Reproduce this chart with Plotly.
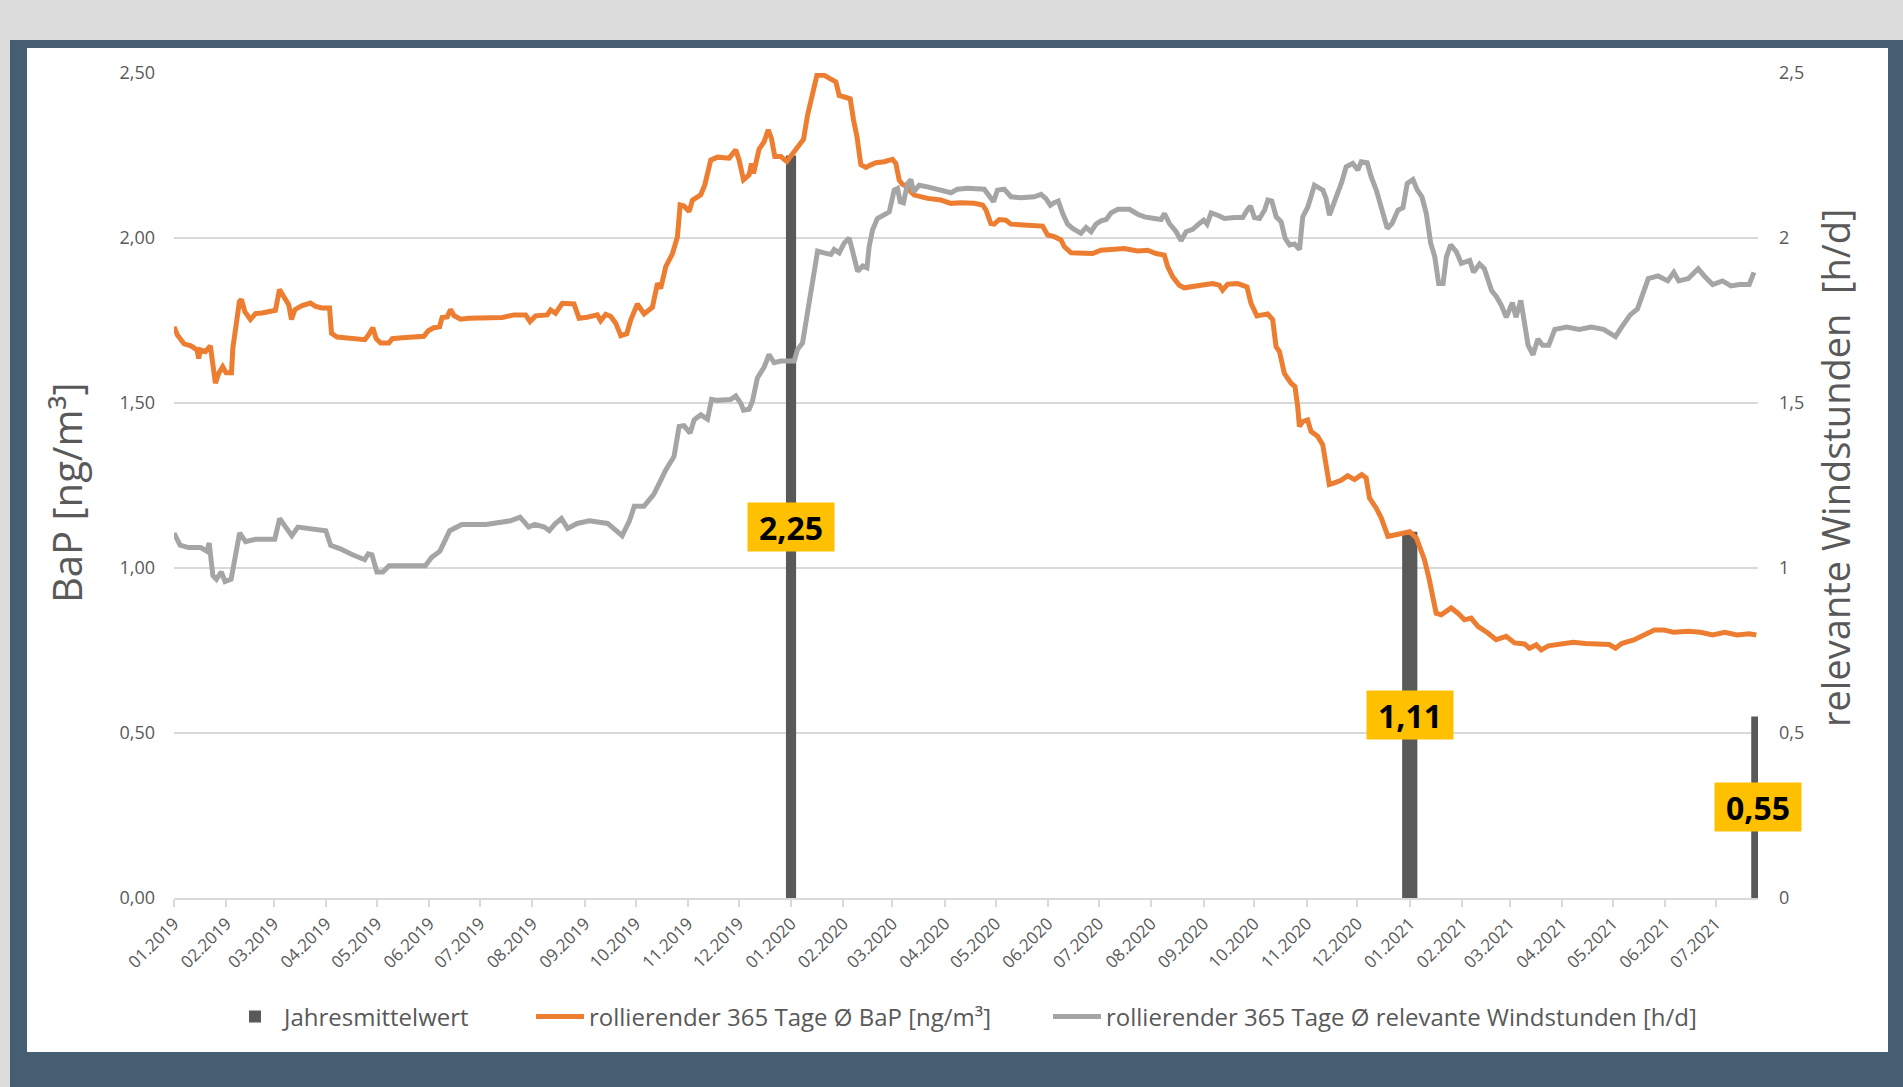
import pandas as pd
import plotly.graph_objects as go

# ---------------- data ----------------
START = "2019-01-01"
END_DAY = 937  # last day on the axis (2021-07-26)

# rolling 365-day mean BaP [ng/m³]; x = days since 2019-01-01
bap_day = [0, 2, 6, 10, 13.6, 14.6, 15.6, 18.6, 21.5, 22.9, 24.5, 26.5, 28.8, 30.8, 34, 34.8, 36.4, 37.3, 38.7, 39.9,
           41.9, 45.2, 48.2, 52.1, 56.1, 60, 62.4, 65, 67.9, 69.5, 71.5, 75.8, 80.7, 83.7, 87.6, 92, 93.2, 96.5, 101.4,
           107.4, 112.9, 114.9, 117.6, 119.6, 122.2, 127.1, 129.1, 135, 140.9, 147.8, 150.4, 153.7, 157.1, 158.6,
           161.6, 163.6, 165.6, 169.5, 174.4, 184.3, 194.2, 201, 208, 210.6, 213.9, 220.8, 222.8, 225.7, 229.7, 236.6,
           239.6, 244.5, 250.4, 252.4, 255.4, 258.4, 261.3, 264.3, 267.8, 270.2, 274.1, 278.1, 283, 286, 287.9, 290.9,
           294.9, 297.8, 299.4, 301.7, 304.7, 306.7, 311.6, 314, 317.5, 321.5, 328.4, 332.3, 334.3, 336.9, 340.2,
           341.6, 342.8, 346.1, 349.1, 351.5, 353.4, 355.4, 359, 362.5, 364.9, 366.9, 369.8, 372.4, 374.8, 377.7,
           380.3, 384.6, 388.6, 391.5, 393.5, 396.5, 400, 402, 404, 406.3, 409.3, 411.9, 415.2, 420.1, 425, 427, 429,
           430.9, 433.9, 435.9, 437.9, 445.8, 453.6, 459.6, 465.5, 473.4, 478.3, 480.3, 483.2, 485.2, 488.2, 492.1,
           495.1, 505, 513.8, 516.8, 520.7, 524.7, 526.6, 530.6, 536.5, 543.4, 548.3, 556.2, 562.1, 570, 575.9, 580.9,
           585.8, 587.8, 590.7, 594.7, 597.6, 607.5, 614.4, 618.3, 620.3, 623.3, 629.2, 634.7, 637.1, 640.6, 645,
           646.9, 649.9, 651.9, 653.9, 656.8, 660.8, 663.1, 664.7, 665.7, 667.7, 670.6, 672.6, 676.5, 679.5, 681.5,
           683.4, 686.4, 690.4, 694.3, 698.3, 702.6, 705.2, 707.2, 711.1, 714.1, 718.1, 722, 726, 731, 735, 739.7,
           742.6, 746.6, 749.6, 755.5, 759.5, 763.4, 767.3, 771.3, 777.2, 782.1, 788, 793, 798.9, 801.8, 805.8, 808.8,
           813, 820, 827.6, 834.8, 842, 849, 852.7, 856.3, 863.5, 870.7, 875.7, 881.5, 887.2, 895.8, 903, 910.2,
           917.4, 924.6, 931.8, 936]
bap_val = [1.731, 1.706, 1.679, 1.673, 1.661, 1.635, 1.661, 1.656, 1.673, 1.620, 1.560, 1.590, 1.610, 1.592, 1.592,
           1.666, 1.721, 1.751, 1.807, 1.814, 1.777, 1.753, 1.771, 1.773, 1.779, 1.781, 1.844, 1.820, 1.797, 1.753,
           1.783, 1.795, 1.803, 1.793, 1.788, 1.788, 1.711, 1.700, 1.698, 1.695, 1.692, 1.705, 1.728, 1.695, 1.682,
           1.682, 1.695, 1.698, 1.700, 1.702, 1.719, 1.728, 1.731, 1.759, 1.761, 1.783, 1.765, 1.754, 1.757, 1.757,
           1.759, 1.767, 1.767, 1.747, 1.764, 1.767, 1.782, 1.772, 1.802, 1.800, 1.757, 1.760, 1.767, 1.749, 1.769,
           1.762, 1.742, 1.704, 1.710, 1.752, 1.800, 1.770, 1.790, 1.863, 1.847, 1.913, 1.953, 2.004, 2.100, 2.097,
           2.080, 2.115, 2.131, 2.161, 2.236, 2.245, 2.242, 2.267, 2.236, 2.176, 2.191, 2.226, 2.196, 2.269, 2.292,
           2.328, 2.302, 2.247, 2.247, 2.232, 2.249, 2.262, 2.282, 2.299, 2.373, 2.443, 2.493, 2.493, 2.483, 2.473,
           2.432, 2.427, 2.422, 2.357, 2.307, 2.222, 2.214, 2.221, 2.228, 2.231, 2.238, 2.226, 2.175, 2.163, 2.155,
           2.140, 2.130, 2.120, 2.115, 2.105, 2.107, 2.105, 2.100, 2.085, 2.044, 2.042, 2.056, 2.054, 2.042, 2.039,
           2.036, 2.009, 2.004, 1.994, 1.974, 1.955, 1.953, 1.953, 1.963, 1.968, 1.968, 1.961, 1.963, 1.953, 1.948,
           1.913, 1.883, 1.857, 1.849, 1.857, 1.862, 1.857, 1.842, 1.860, 1.862, 1.852, 1.802, 1.764, 1.767, 1.770,
           1.753, 1.671, 1.656, 1.590, 1.560, 1.550, 1.490, 1.429, 1.444, 1.449, 1.414, 1.399, 1.374, 1.313, 1.253,
           1.258, 1.266, 1.280, 1.268, 1.283, 1.273, 1.212, 1.182, 1.152, 1.096, 1.100, 1.105, 1.110, 1.090, 1.025,
           0.964, 0.863, 0.858, 0.879, 0.863, 0.843, 0.848, 0.823, 0.803, 0.783, 0.793, 0.773, 0.770, 0.757, 0.767,
           0.752, 0.764, 0.771, 0.775, 0.771, 0.771, 0.768, 0.757, 0.771, 0.782, 0.801, 0.812, 0.812, 0.805, 0.808,
           0.805, 0.797, 0.805, 0.797, 0.801, 0.797]

# rolling 365-day mean relevant wind hours [h/d]
wind_day = [0, 3.6, 8.6, 15.8, 19.4, 20.8, 23, 25.1, 28, 30.2, 33.8, 35.9, 38.8, 42.4, 48.1, 59.6, 62.5, 66.1, 69.7,
            73.3, 80.5, 89.8, 92.7, 98.4, 105.6, 112.8, 114.9, 117.1, 120, 123.6, 127.2, 148.7, 152.3, 157.3, 163.1,
            170.3, 184.6, 199, 204.7, 209.8, 213.4, 219.1, 222, 225.6, 229.2, 232.8, 238.5, 245.7, 256.5, 261.5,
            265.1, 269.4, 272.3, 278, 283.8, 287.4, 290.9, 295.8, 298.8, 301.7, 305.3, 307.7, 311.6, 315.6, 318,
            321.5, 329.4, 332.3, 335.3, 336.9, 340.2, 342.2, 345.1, 349.1, 352, 355, 359, 366.9, 368.8, 371.8, 374.8,
            377.7, 380.7, 384.6, 388.6, 390.5, 393.5, 396.5, 399.4, 401.4, 404.4, 407.4, 409.9, 411.2, 413.2, 416.1,
            419.1, 423.1, 426, 428, 429.6, 431.5, 433.9, 435.9, 437.5, 440.8, 445.8, 453.6, 459.6, 463.5, 469.4,
            479.3, 482.2, 484.8, 487.1, 491.1, 495.1, 501, 508.9, 512.9, 515.8, 518.4, 520.7, 523.1, 525.7, 528.6,
            531.6, 536.5, 539.5, 542.5, 545.4, 548.4, 551.4, 554.3, 558.3, 565.2, 570.1, 574.1, 580, 583.9, 585.9,
            588.8, 592.8, 595.7, 598.7, 602.6, 606.6, 609.1, 611.1, 613.5, 617.4, 621.4, 627.3, 632.2, 634.8, 636.8,
            639.1, 642.1, 645.1, 647.1, 649.4, 652, 654.9, 657.3, 659.9, 662.8, 665.8, 667.7, 670.7, 674.6, 679.6,
            681.5, 683.5, 686.1, 688.5, 690.8, 693.4, 697.3, 700.3, 702.3, 705.8, 708.2, 711.2, 714.1, 717.7, 720.5,
            724, 727, 729.5, 732.9, 735.5, 738.2, 740.8, 743.4, 745.8, 748.1, 750.7, 752.7, 755.2, 758.6, 761.5,
            766.5, 768.7, 772.3, 775.1, 779.4, 782.3, 785.2, 788.1, 791.7, 793.8, 796.7, 798.9, 801, 803.9, 806.8,
            809.6, 813.2, 816.8, 824, 831.2, 838.4, 845.6, 852.7, 856.3, 861.4, 865.7, 868.5, 872.1, 877.9, 883.6,
            887.2, 890.1, 895.8, 901.6, 905.2, 910.2, 916, 921, 926, 931.8, 934.6]
wind_val = [1.106, 1.069, 1.062, 1.062, 1.051, 1.076, 0.977, 0.966, 0.988, 0.959, 0.966, 1.032, 1.106, 1.080, 1.087,
            1.087, 1.150, 1.124, 1.098, 1.124, 1.120, 1.113, 1.069, 1.058, 1.040, 1.025, 1.043, 1.040, 0.988, 0.988,
            1.007, 1.007, 1.032, 1.051, 1.113, 1.132, 1.132, 1.143, 1.154, 1.124, 1.132, 1.124, 1.113, 1.135, 1.150,
            1.120, 1.135, 1.143, 1.135, 1.113, 1.098, 1.143, 1.187, 1.187, 1.223, 1.260, 1.297, 1.338, 1.429, 1.431,
            1.409, 1.449, 1.464, 1.451, 1.511, 1.508, 1.511, 1.521, 1.499, 1.478, 1.481, 1.506, 1.576, 1.609, 1.647,
            1.622, 1.627, 1.627, 1.662, 1.682, 1.773, 1.859, 1.960, 1.955, 1.950, 1.965, 1.955, 1.985, 2.000, 1.960,
            1.899, 1.915, 1.910, 1.974, 2.024, 2.059, 2.069, 2.079, 2.145, 2.150, 2.110, 2.107, 2.165, 2.177, 2.140,
            2.160, 2.155, 2.145, 2.137, 2.148, 2.151, 2.148, 2.125, 2.110, 2.145, 2.148, 2.125, 2.122, 2.125, 2.132,
            2.119, 2.099, 2.107, 2.112, 2.074, 2.042, 2.029, 2.014, 2.032, 2.019, 2.042, 2.052, 2.056, 2.076, 2.087,
            2.087, 2.072, 2.064, 2.059, 2.056, 2.074, 2.044, 2.019, 1.992, 2.019, 2.026, 2.044, 2.054, 2.042, 2.076,
            2.069, 2.059, 2.062, 2.062, 2.084, 2.097, 2.062, 2.059, 2.084, 2.115, 2.112, 2.064, 2.049, 1.999, 1.979,
            1.982, 1.965, 2.064, 2.094, 2.160, 2.145, 2.120, 2.069, 2.105, 2.135, 2.170, 2.216, 2.226, 2.206, 2.231,
            2.228, 2.185, 2.145, 2.094, 2.029, 2.044, 2.084, 2.092, 2.165, 2.177, 2.145, 2.125, 2.074, 1.984, 1.943,
            1.862, 1.862, 1.943, 1.979, 1.958, 1.923, 1.932, 1.896, 1.921, 1.907, 1.841, 1.822, 1.796, 1.760, 1.804,
            1.760, 1.811, 1.749, 1.675, 1.646, 1.694, 1.675, 1.675, 1.723, 1.730, 1.723, 1.730, 1.723, 1.701, 1.730,
            1.767, 1.785, 1.822, 1.877, 1.885, 1.870, 1.896, 1.870, 1.877, 1.907, 1.885, 1.859, 1.870, 1.855, 1.859,
            1.859, 1.896]

# annual means (bars)
annual_day = [365, 731, 937]
annual_val = [2.25, 1.11, 0.55]

y_left_ticks = [0, 0.5, 1.0, 1.5, 2.0, 2.5]

NAME_BAR = "Jahresmittelwert"
NAME_BAP = "rollierender 365 Tage Ø BaP [ng/m³]"
NAME_WIND = "rollierender 365 Tage Ø relevante Windstunden [h/d]"
TITLE_LEFT = "BaP [ng/m³]"
TITLE_RIGHT = "relevante Windstunden\u00a0 [h/d]"

# ---------------- helpers ----------------
start = pd.Timestamp(START)
to_date = lambda days: [start + pd.Timedelta(days=float(d)) for d in days]

W, H = 1903, 1087
ML, MR, MT, MB = 174, 145, 73, 189
PW, PH = W - ML - MR, H - MT - MB


def px(xp):
    return (xp - ML) / PW


def py(yp):
    return (H - MB - yp) / PH


FONT = "Open Sans"
TXT = "#595959"

fig = go.Figure()

fig.add_trace(go.Bar(
    x=to_date(annual_day), y=annual_val, name=NAME_BAR, legend="legend",
    width=[6 * 86400000, 9 * 86400000, 8 * 86400000],
    marker=dict(color="#595959", line=dict(width=0)),
    yaxis="y",
))
fig.add_trace(go.Scatter(
    x=to_date(bap_day), y=bap_val, name=NAME_BAP, mode="lines", legend="legend2",
    line=dict(color="#ED7D31", width=5), yaxis="y",
))
fig.add_trace(go.Scatter(
    x=to_date(wind_day), y=wind_val, name=NAME_WIND, mode="lines", legend="legend3",
    line=dict(color="#A5A5A5", width=5), yaxis="y2",
))

# data labels centered on the bars
for d, v in zip(to_date(annual_day), annual_val):
    fig.add_annotation(
        x=d, y=v / 2, xref="x", yref="y",
        text="<b>" + f"{v:.2f}".replace(".", ",") + "</b>",
        showarrow=False, bgcolor="#FFC000", borderpad=0,
        width=86, height=48, xanchor="center", yanchor="middle",
        font=dict(family=FONT, size=32, color="#000000"),
    )

# axis titles
fig.add_annotation(x=px(67), y=py(492), xref="paper", yref="paper", text=TITLE_LEFT,
                   textangle=-90, showarrow=False, xanchor="center", yanchor="middle",
                   font=dict(family=FONT, size=40, color=TXT))
fig.add_annotation(x=px(1835), y=py(468), xref="paper", yref="paper", text=TITLE_RIGHT,
                   textangle=-90, showarrow=False, xanchor="center", yanchor="middle",
                   font=dict(family=FONT, size=38, color=TXT))

# page frame
shapes = [
    dict(type="rect", xref="paper", yref="paper", x0=px(0), x1=px(W), y0=py(0), y1=py(40),
         fillcolor="#DCDCDC", line=dict(width=0), layer="below"),
    dict(type="rect", xref="paper", yref="paper", x0=px(0), x1=px(10), y0=py(0), y1=py(H),
         fillcolor="#DCDCDC", line=dict(width=0), layer="below"),
    dict(type="rect", xref="paper", yref="paper", x0=px(27), x1=px(1888), y0=py(48), y1=py(1052),
         fillcolor="#FFFFFF", line=dict(width=0), layer="below"),
]

leg_common = dict(orientation="h", yanchor="middle", y=py(1017), xanchor="left",
                  font=dict(family=FONT, size=24, color=TXT), bgcolor="rgba(0,0,0,0)",
                  itemwidth=48, borderwidth=0)

fig.update_layout(
    width=W, height=H,
    margin=dict(l=ML, r=MR, t=MT, b=MB, pad=0),
    paper_bgcolor="#465E72", plot_bgcolor="rgba(0,0,0,0)",
    separators=", ",
    font=dict(family=FONT, color=TXT),
    shapes=shapes,
    barmode="overlay",
    showlegend=True,
    legend=dict(x=px(226), **leg_common),
    legend2=dict(x=px(531), **leg_common),
    legend3=dict(x=px(1048), **leg_common),
    xaxis=dict(
        type="date", range=[start, start + pd.Timedelta(days=END_DAY)],
        tick0=START, dtick="M1", tickformat="%m.%Y", tickangle=-45,
        ticks="outside", ticklen=7, tickcolor="#D9D9D9", tickwidth=1.5,
        showline=True, linecolor="#D9D9D9", linewidth=2, showgrid=False, zeroline=False,
        tickfont=dict(family=FONT, size=17, color=TXT),
    ),
    yaxis=dict(
        range=[0, 2.5], tickvals=y_left_ticks, tickformat=".2f",
        showgrid=True, gridcolor="#D9D9D9", gridwidth=1.5, zeroline=False, showline=False,
        ticks="", ticklabelstandoff=18, tickfont=dict(family=FONT, size=18, color=TXT),
    ),
    yaxis2=dict(
        range=[0, 2.5], tickvals=y_left_ticks, tickformat=".1~f", overlaying="y", side="right",
        showgrid=False, zeroline=False, showline=False,
        ticks="", ticklabelstandoff=20, tickfont=dict(family=FONT, size=18, color=TXT),
    ),
)

fig.write_html("out.html", config={"displayModeBar": False},
               post_script="document.body.style.margin='0px';document.body.style.overflow='hidden';")
